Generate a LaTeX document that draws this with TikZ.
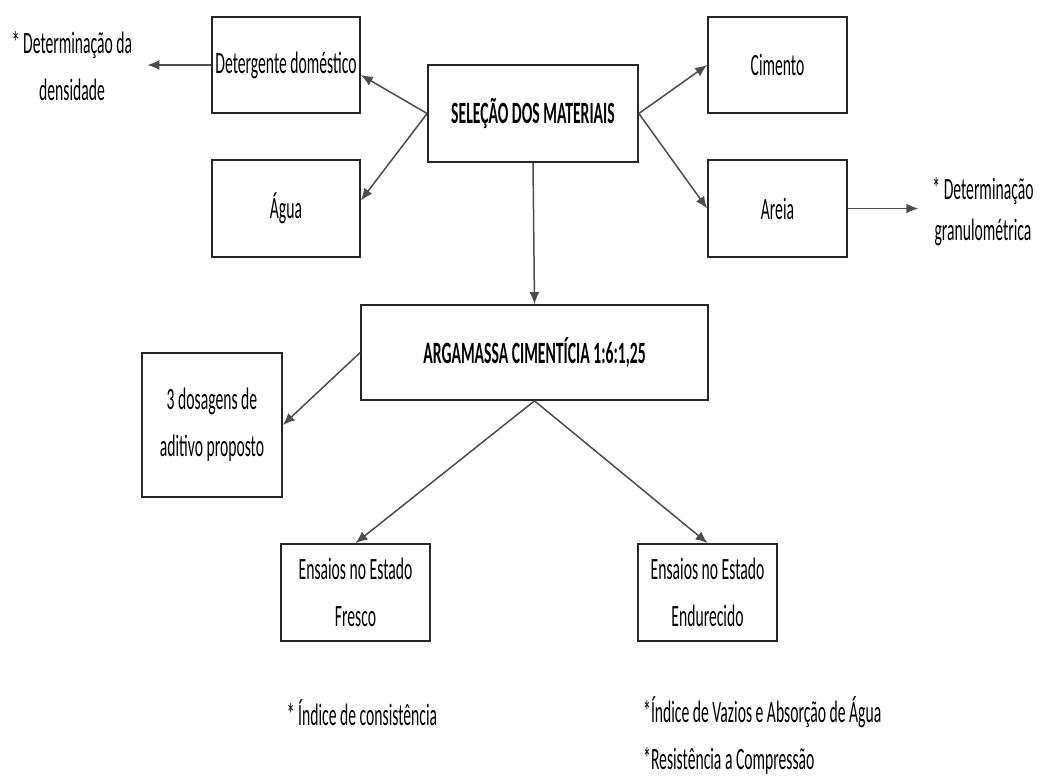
\documentclass[tikz,border=0pt]{standalone}
\usepackage{fontspec}
\setmainfont{Carlito}[FakeStretch=0.505]
\usetikzlibrary{arrows.meta}

\begin{document}
\begin{tikzpicture}[x=1pt, y=-1pt,
		caixa/.style={draw=black!85, line width=1.7pt, align=center, inner sep=0pt},
		texto/.style={align=center, inner sep=2pt},
		seta/.style={draw=black!70, line width=1.5pt, ->},
		>={Latex[length=12pt,width=10pt]},
		font=\fontsize{31}{47}\selectfont]

	\path[fill=white, use as bounding box] (0,0) rectangle (1040,776);

	\node[caixa, minimum width=148pt, minimum height=96pt] (deterg) at (286,65) {Detergente doméstico};
	\node[caixa, minimum width=148pt, minimum height=97pt] (agua) at (286,208.5) {Água};
	\node[caixa, minimum width=210pt, minimum height=97pt] (selecao) at (533,113.5) {\bfseries SELEÇÃO DOS MATERIAIS};
	\node[caixa, minimum width=139pt, minimum height=96pt] (cimento) at (777.5,65) {Cimento};
	\node[caixa, minimum width=139pt, minimum height=97pt] (areia) at (777.5,208.5) {Areia};
	\node[caixa, minimum width=347pt, minimum height=95pt] (argamassa) at (534.5,352.5) {\bfseries ARGAMASSA CIMENTÍCIA 1:6:1,25};
	\node[caixa, minimum width=140pt, minimum height=144pt] (dosagens) at (212,425) {3 dosagens de\\aditivo proposto};
	\node[caixa, minimum width=149pt, minimum height=97pt] (fresco) at (355.5,592.5) {Ensaios no Estado\\Fresco};
	\node[caixa, minimum width=139pt, minimum height=97pt] (endurecido) at (707.5,592.5) {Ensaios no Estado\\Endurecido};

	\node[texto] (densidade) at (72,66) {* Determinação da\\densidade};
	\node[texto, font=\fontsize{31}{41}\selectfont] (granulo) at (983,212) {* Determinação\\granulométrica};
	\node[texto] (consist) at (362,713) {* Índice de consistência};
	\node[texto, align=left, anchor=west] (ensaiosend) at (641,736) {*Índice de Vazios e Absorção de Água\\*Resistência a Compressão};

	\draw[seta, shorten >=13pt] (deterg.west) -- (deterg.west -| densidade.east);
	\draw[seta] (selecao.west) -- ([yshift=-10pt]deterg.east);
	\draw[seta] (selecao.west) -- ([yshift=8pt]agua.east);
	\draw[seta] (selecao.east) -- (cimento.west);
	\draw[seta] (selecao.east) -- (areia.west);
	\draw[seta, shorten >=12pt] (areia.east) -- (areia.east -| granulo.west);
	\draw[seta] (selecao.south) -- (argamassa.north);
	\draw[seta] (argamassa.west) -- (dosagens.east);
	\draw[seta] (argamassa.south) -- (fresco.north);
	\draw[seta] (argamassa.south) -- (endurecido.north);
\end{tikzpicture}
\end{document}
